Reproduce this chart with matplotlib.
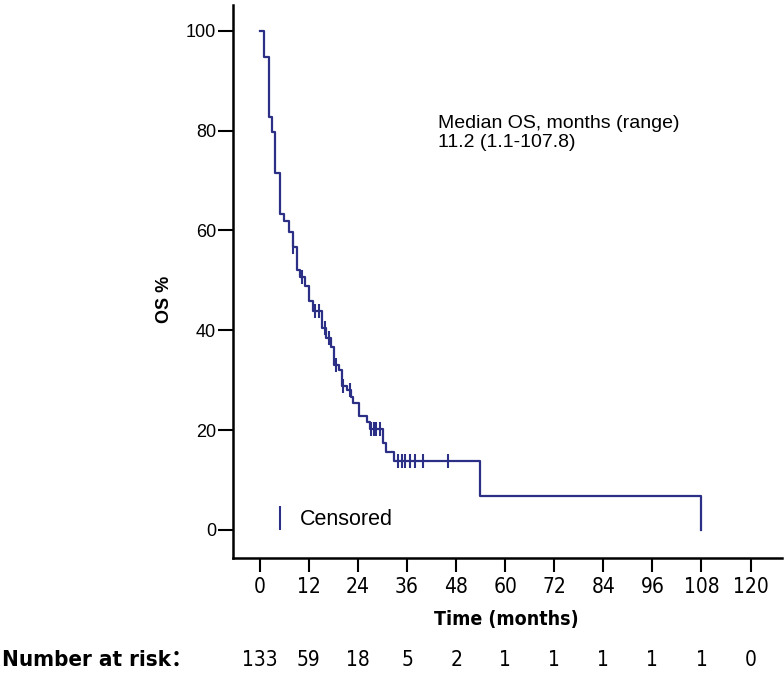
import numpy as np
import matplotlib
matplotlib.use("Agg")
from matplotlib import pyplot as plt

# KM step points (months, OS %)
event_times = [0, 1.1, 2.2, 3.0, 3.8, 5.0, 5.9, 7.2, 8.0, 9.2, 9.9, 11.0, 12.0, 13.0,
               15.1, 16.1, 17.3, 18.2, 19.3, 20.0, 21.2, 22.2, 22.8, 24.3, 26.1, 27.0,
               30.0, 30.8, 32.8, 53.9, 107.8]
survival = [100, 94.8, 82.8, 79.7, 71.5, 63.3, 61.8, 59.6, 56.6, 52.1, 50.6, 48.8, 45.8, 43.8,
            40.4, 38.4, 36.7, 33.1, 32.1, 28.9, 28.1, 26.6, 25.4, 22.8, 21.7, 20.3,
            17.4, 15.7, 13.8, 6.9, 0]
censor_times = [8.2, 10.2, 13.6, 14.4, 16.0, 16.9, 18.7, 20.4, 22.0,
                27.3, 27.9, 28.5, 29.3, 33.8, 34.8, 35.6, 36.6, 38.0, 39.9, 46.0]

xticks = [0, 12, 24, 36, 48, 60, 72, 84, 96, 108, 120]
at_risk = [133, 59, 18, 5, 2, 1, 1, 1, 1, 1, 0]

navy = '#2b2f86'
narrow = ['DejaVu Sans']
narrow_cjk = ['DejaVu Sans', 'Noto Sans CJK SC']
plt.rcParams['font.family'] = ['Liberation Sans', 'DejaVu Sans']

fig = plt.figure(figsize=(7.84, 6.73), dpi=100)
ax = fig.add_axes([0.297, 0.171, 0.70, 0.822])

ax.step(event_times, survival, where='post', color=navy, lw=1.6)
ev = np.array(event_times)
sv = np.array(survival)
censor_s = [sv[np.searchsorted(ev, t, side='right') - 1] for t in censor_times]
ax.plot(censor_times, censor_s, ls='none', marker='|', ms=10, mew=1.5, color=navy)

ax.set_xlim(-6.6, 127.6)
ax.set_ylim(-5.6, 105.2)
ax.set_yticks([0, 20, 40, 60, 80, 100])
ax.set_xticks(xticks)
ax.set_xticklabels([str(t) for t in xticks], family=narrow, stretch='condensed', fontsize=15)
ax.tick_params(axis='y', labelsize=13, length=11, width=1.5, pad=1)
ax.tick_params(axis='x', length=10, width=1.5, pad=4)
for s in ['top', 'right']:
    ax.spines[s].set_visible(False)
for s in ['left', 'bottom']:
    ax.spines[s].set_linewidth(1.8)

ax.text(-0.124, 0.467, 'OS %', transform=ax.transAxes, rotation=90,
        ha='center', va='center', fontsize=13, fontweight='bold')
ax.text(0.499, -0.112, 'Time (months)', transform=ax.transAxes,
        ha='center', va='center', fontsize=14, fontweight='bold',
        family=narrow, stretch='condensed')

ax.text(0.373, 0.801, 'Median OS, months (range)\n11.2 (1.1-107.8)', transform=ax.transAxes,
        ha='left', va='top', fontsize=14, linespacing=1.2)

# legend for censor mark
ax.plot([0.0856], [0.072], transform=ax.transAxes, ls='none', marker='|',
        ms=17, mew=1.5, color=navy)
ax.text(0.122, 0.069, 'Censored', transform=ax.transAxes, ha='left', va='center', fontsize=15.5)

# number at risk row
for t, n in zip(xticks, at_risk):
    ax.text(t, -0.184, str(n), transform=ax.get_xaxis_transform(),
            ha='center', va='center', fontsize=15, family=narrow, stretch='condensed')
fig.text(0.003, 0.019, 'Number at risk：', ha='left', va='center',
         fontsize=16, fontweight='bold', family=narrow_cjk, stretch='condensed')

fig.savefig('out.png', dpi=100)
